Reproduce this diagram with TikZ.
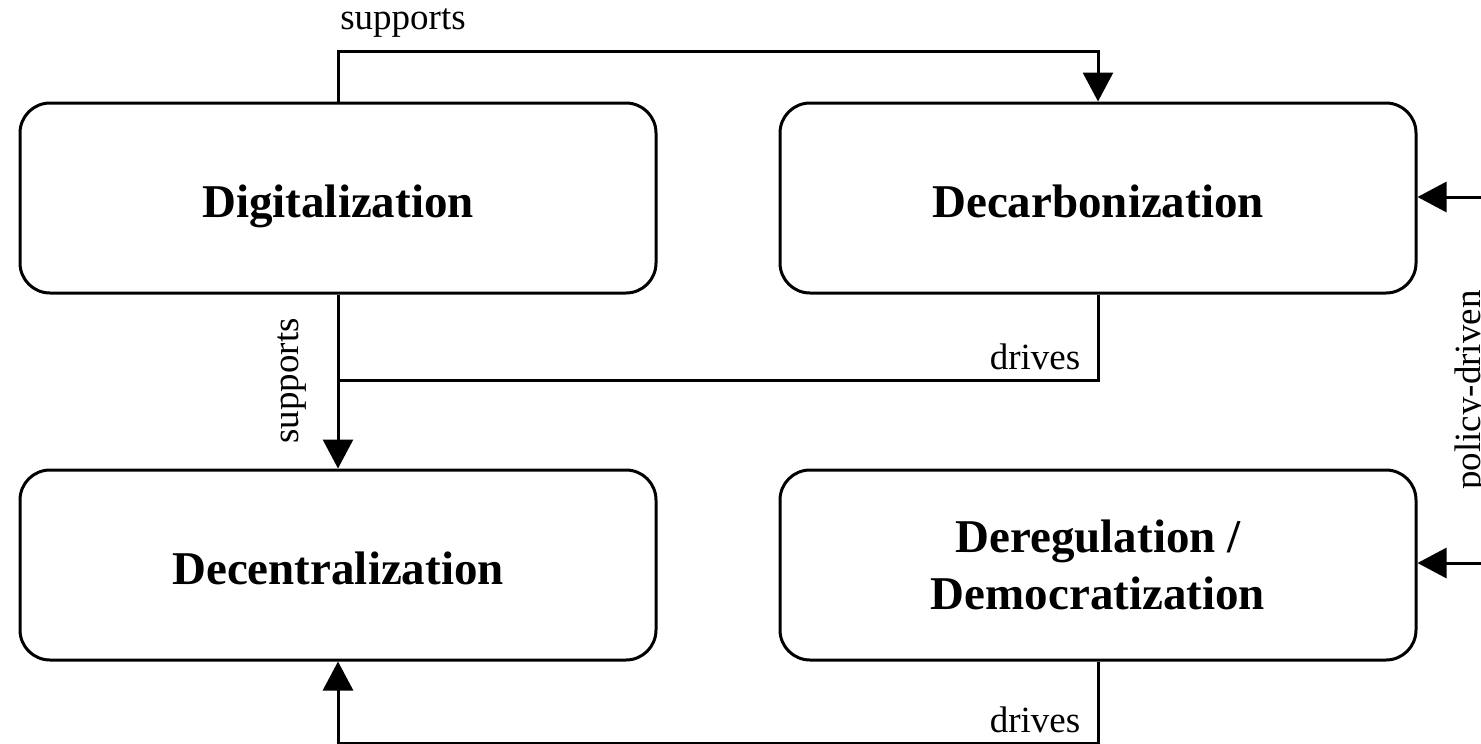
\documentclass[tikz,border=0pt]{standalone}
\usepackage{fontspec}
\setmainfont{Liberation Serif}
\usetikzlibrary{arrows.meta}
\tikzset{
  box/.style={draw, line width=3pt, rounded corners=30pt, minimum width=636pt, minimum height=190pt, inner sep=0pt, align=center, font=\fontsize{47}{57}\selectfont\bfseries},
  oneline/.style={text height=38pt, text depth=0pt},
  conn/.style={line width=3pt},
  arr/.style={conn, -{Triangle[length=29pt,width=30pt]}},
  lab/.style={inner sep=0pt, font=\fontsize{37}{42}\selectfont}
}
\begin{document}
\begin{tikzpicture}[x=1pt,y=-1pt]
\useasboundingbox (0,0) rectangle (1481,744);
\node[box, oneline] (dig) at (338,198) {Digitalization};
\node[box, oneline] (dcb) at (1098,198) {Decarbonization};
\node[box, oneline] (dce) at (338,565) {Decentralization};
\node[box] (der) at (1098,565) {Deregulation /\\Democratization};
\coordinate (j) at (338,380);
\coordinate (r1) at (1481,197);
\coordinate (r2) at (1481,563);
\draw[arr] (dig.north) -- ++(0,-50) -| (dcb.north);
\draw[arr] (dig.south) -- (dce.north);
\draw[conn] (dcb.south) |- (j);
\draw[arr] (der.south) -- ++(0,82) -| (dce.south);
\draw[arr] (r1) -- (dcb.east |- r1);
\draw[arr] (r2) -- (der.east |- r2);
\node[lab] (l1) at (403,23) {supports};
\node[lab, rotate=90] (l2) at (292,381) {supports};
\node[lab] (l3) at (1035,357) {drives};
\node[lab] (l4) at (1035,720) {drives};
\node[lab, rotate=90] (l5) at (1472,390) {policy-driven};
\end{tikzpicture}
\end{document}
